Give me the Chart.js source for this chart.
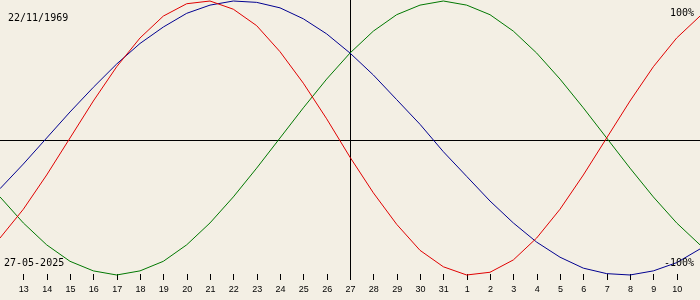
<!DOCTYPE html>
<html>
<head>
<meta charset="utf-8">
<script src="https://cdn.jsdelivr.net/npm/chart.js@4/dist/chart.umd.min.js"></script>
<style>
  html, body { margin: 0; padding: 0; background: #F3EFE4; }
  #wrap { width: 700px; height: 300px; position: relative; }
</style>
</head>
<body>
<div id="wrap"><canvas id="c" width="700" height="300"></canvas></div>
<script>
// Day labels (12 May .. 11 June 2025), centre day = 27
const days = ['12','13','14','15','16','17','18','19','20','21','22','23','24','25','26','27','28','29','30','31','1','2','3','4','5','6','7','8','9','10','11'];
const centerDay = '27';
const birthLabel = '22/11/1969';
const dateLabel = '27-05-2025';
const topLabel = '100%';
const bottomLabel = '-100%';

// Physical (red)
const physical = [-0.73,-0.52,-0.27,0.00,0.27,0.52,0.73,0.89,0.98,1.00,0.94,0.82,0.63,0.40,0.14,-0.14,-0.40,-0.63,-0.82,-0.94,-1.00,-0.98,-0.89,-0.73,-0.52,-0.27,0.00,0.27,0.52,0.73,0.89];
// Emotional (green)
const emotional = [-0.43,-0.62,-0.78,-0.90,-0.97,-1.00,-0.97,-0.90,-0.78,-0.62,-0.43,-0.22,0.00,0.22,0.43,0.62,0.78,0.90,0.97,1.00,0.97,0.90,0.78,0.62,0.43,0.22,0.00,-0.22,-0.43,-0.62,-0.78];
// Intellectual (blue)
const intellectual = [-0.37,-0.19,0.00,0.19,0.37,0.54,0.69,0.81,0.91,0.97,1.00,0.99,0.95,0.87,0.76,0.62,0.46,0.28,0.10,-0.10,-0.28,-0.46,-0.62,-0.76,-0.87,-0.95,-0.99,-1.00,-0.97,-0.91,-0.81];

const overlay = {
  id: 'overlay',
  beforeDatasetsDraw(chart) {
    const ctx = chart.ctx;
    const xs = chart.scales.x, ys = chart.scales.y;
    ctx.save();
    ctx.strokeStyle = '#000';
    ctx.lineWidth = 1;
    // zero line
    const y0 = Math.round(ys.getPixelForValue(-0.015)) + 0.5;
    ctx.beginPath(); ctx.moveTo(0, y0); ctx.lineTo(700, y0); ctx.stroke();
    // ticks
    days.forEach((d, i) => {
      if (i === 0 || i === days.length - 1) return;
      const x = Math.round(xs.getPixelForValue(i)) + 0.5;
      ctx.beginPath();
      if (d === centerDay) { ctx.moveTo(x, 0); ctx.lineTo(x, 280); }
      else { ctx.moveTo(x, 274); ctx.lineTo(x, 280); }
      ctx.stroke();
    });
    ctx.restore();
  },
  afterDraw(chart) {
    const ctx = chart.ctx;
    const xs = chart.scales.x;
    ctx.save();
    ctx.fillStyle = '#000';
    ctx.textBaseline = 'alphabetic';
    ctx.font = '9px "Liberation Sans", sans-serif';
    ctx.textAlign = 'center';
    days.forEach((d, i) => {
      if (i === 0 || i === days.length - 1) return;
      ctx.fillText(d, xs.getPixelForValue(i) + 0.5, 292);
    });
    ctx.font = '10px "DejaVu Sans Mono", monospace';
    ctx.textAlign = 'left';
    ctx.fillText(birthLabel, 8, 21);
    ctx.fillText(dateLabel, 4, 266);
    ctx.textAlign = 'right';
    ctx.fillText(topLabel, 694, 16);
    ctx.fillText(bottomLabel, 694, 266);
    ctx.restore();
  }
};

new Chart(document.getElementById('c'), {
  type: 'line',
  data: {
    labels: days,
    datasets: [
      { label: 'Physical', data: physical, borderColor: '#E00000', borderWidth: 1, pointRadius: 0, tension: 0, fill: false },
      { label: 'Intellectual', data: intellectual, borderColor: '#000090', borderWidth: 1, pointRadius: 0, tension: 0, fill: false },
      { label: 'Emotional', data: emotional, borderColor: '#007800', borderWidth: 1, pointRadius: 0, tension: 0, fill: false }
    ]
  },
  options: {
    responsive: false,
    animation: false,
    events: [],
    layout: { padding: 0 },
    plugins: { legend: { display: false }, tooltip: { enabled: false } },
    scales: {
      x: { type: 'category', display: false, offset: false },
      y: { display: false, min: -1.1825, max: 1.0073 }
    }
  },
  plugins: [overlay]
});
</script>
</body>
</html>
